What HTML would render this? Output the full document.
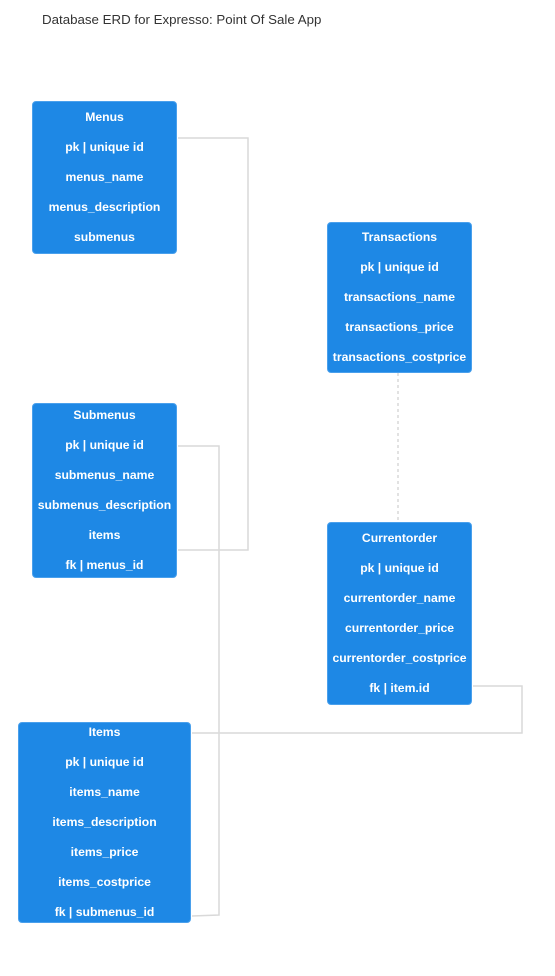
<!DOCTYPE html>
<html><head><style>
body{margin:0;width:555px;height:976px;background:#fff;position:relative;font-family:"Liberation Sans",Arial,sans-serif;overflow:hidden}
.t{position:absolute;left:42px;top:12px;font-size:13.3px;color:#333}
.b{position:absolute;background:#1e88e5;border-radius:4px;border:1px solid #4aa0ec;box-sizing:border-box;color:#fff;font-weight:bold;font-size:12.2px;text-align:center}
.b div{height:30px;line-height:30px}
svg{position:absolute;left:0;top:0}
</style></head><body>
<div class="t">Database ERD for Expresso: Point Of Sale App</div>
<svg width="555" height="976" fill="none" stroke="#d9d9d9" stroke-width="1.5">
<polyline points="178,138 248,138 248,550 178,550"/>
<polyline points="178,446 219,446 219,915 192,916"/>
<polyline points="473,686 522,686 522,733 192,733"/>
<line x1="398" y1="373" x2="398" y2="522" stroke-dasharray="3,3"/>
</svg>
<div class="b" style="left:32px;top:101px;width:145px;height:153px"><div>Menus</div><div>pk | unique id</div><div>menus_name</div><div>menus_description</div><div>submenus</div></div>
<div class="b" style="left:327px;top:222px;width:145px;height:151px"><div style="margin-top:-1px">Transactions</div><div>pk | unique id</div><div>transactions_name</div><div>transactions_price</div><div>transactions_costprice</div></div>
<div class="b" style="left:32px;top:403px;width:145px;height:175px"><div style="margin-top:-4px">Submenus</div><div>pk | unique id</div><div>submenus_name</div><div>submenus_description</div><div>items</div><div>fk | menus_id</div></div>
<div class="b" style="left:327px;top:522px;width:145px;height:183px"><div>Currentorder</div><div>pk | unique id</div><div>currentorder_name</div><div>currentorder_price</div><div>currentorder_costprice</div><div>fk | item.id</div></div>
<div class="b" style="left:18px;top:722px;width:173px;height:201px"><div style="margin-top:-6px">Items</div><div>pk | unique id</div><div>items_name</div><div>items_description</div><div>items_price</div><div>items_costprice</div><div>fk | submenus_id</div></div>
</body></html>
